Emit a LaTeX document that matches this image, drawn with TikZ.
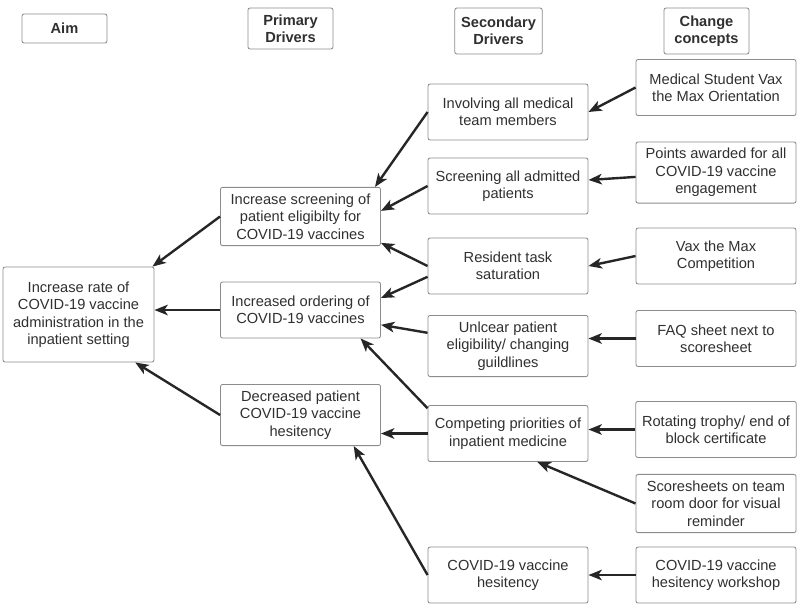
\documentclass[tikz,border=0pt]{standalone}
\usepackage{fontspec}
\setmainfont{Liberation Sans}
\usepackage{tikz}
\usetikzlibrary{arrows.meta}
\usepackage{xcolor}
\definecolor{boxgray}{HTML}{8C8C8C}
\definecolor{inkgray}{HTML}{262626}
\definecolor{txtgray}{HTML}{303030}

\begin{document}
\begin{tikzpicture}[x=0.025cm,y=-0.025cm,
  box/.style={draw=boxgray,line width=0.6pt,rounded corners=1.5pt,fill=white,
    text=txtgray,align=center,inner sep=4.5pt,minimum width=4cm,minimum height=1.4cm,
    font=\fontsize{10.4}{12.4}\selectfont},
  head/.style={box,minimum width=2.125cm,minimum height=0.725cm,font=\fontsize{10.4}{12.4}\selectfont\bfseries},
  arr/.style={draw=inkgray,line width=1.7pt,-{Stealth[length=9.5pt,width=7.5pt,inset=2.5pt]}}]
\useasboundingbox (0,0) rectangle (800,608);

\node[head] (haim) at (64.5,28.5) {Aim};
\node[head,minimum height=1.025cm] (hpri) at (290.5,28.5) {Primary\\Drivers};
\node[head,minimum height=1.15cm] (hsec) at (498.5,31) {Secondary\\Drivers};
\node[head,minimum height=1.15cm] (hchg) at (706.5,31) {Change\\concepts};

\node[box,minimum width=3.775cm,minimum height=2.375cm] (aim) at (78.5,314.5) {Increase rate of\\COVID-19 vaccine\\administration in the\\inpatient setting};

\node[box] (p1) at (300.5,216.5) {Increase screening of\\patient eligibilty for\\COVID-19 vaccines};
\node[box] (p2) at (300.5,310) {Increased ordering of\\COVID-19 vaccines};
\node[box] (p3) at (300.5,415) {Decreased patient\\COVID-19 vaccine\\hesitency};

\node[box] (s1) at (508,112) {Involving all medical\\team members};
\node[box] (s2) at (508,186) {Screening all admitted\\patients};
\node[box] (s3) at (508,266) {Resident task\\saturation};
\node[box] (s4) at (508,346) {Unlcear patient\\eligibility/ changing\\guildlines};
\node[box] (s5) at (508,433.5) {Competing priorities of\\inpatient medicine};
\node[box] (s6) at (508,575) {COVID-19 vaccine\\hesitency};

\node[box] (c1) at (716,87.5) {Medical Student Vax\\the Max Orientation};
\node[box] (c2) at (716,172.5) {Points awarded for all\\COVID-19 vaccine\\engagement};
\node[box] (c3) at (716,256) {Vax the Max\\Competition};
\node[box] (c4) at (716,338.5) {FAQ sheet next to\\scoresheet};
\node[box] (c5) at (716,429.5) {Rotating trophy/ end of\\block certificate};
\node[box] (c6) at (716,503.5) {Scoresheets on team\\room door for visual\\reminder};
\node[box] (c7) at (716,575) {COVID-19 vaccine\\hesitency workshop};

\draw[arr] (c1.west) -- (s1.east);
\draw[arr] ([yshift=-0.11cm]c2.west) -- ([yshift=0.15cm]s2.east);
\draw[arr] (c3.west) -- (s3.east);
\draw[arr] (c4.west) -- (c4.west -| s4.east);
\draw[arr] (c5.west) -- (c5.west -| s5.east);
\draw[arr] (c6.west) -- ([xshift=0.73cm]s5.south);
\draw[arr] (c7.west) -- (s6.east);

\draw[arr] (s1.west) -- ([xshift=-0.15cm]p1.north east);
\draw[arr] (s2.west) -- ([yshift=0.14cm]p1.east);
\draw[arr] (s3.west) -- ([yshift=0.08cm]p1.south east);
\draw[arr] ([yshift=-0.27cm]s3.west) -- ([yshift=0.3cm]p2.east);
\draw[arr] ([yshift=0.33cm]s4.west) -- ([yshift=-0.37cm]p2.east);
\draw[arr] ([yshift=-0.08cm]s5.north west) -- ([xshift=1.5cm]p2.south);
\draw[arr] (s5.west) -- (s5.west -| p3.east);
\draw[arr] (s6.west) -- ([xshift=1.33cm]p3.south);

\draw[arr] (p1.west) -- ([xshift=-0.05cm]aim.north east);
\draw[arr] (p2.west) -- (p2.west -| aim.east);
\draw[arr] (p3.west) -- ([xshift=-0.48cm]aim.south east);
\end{tikzpicture}
\end{document}
